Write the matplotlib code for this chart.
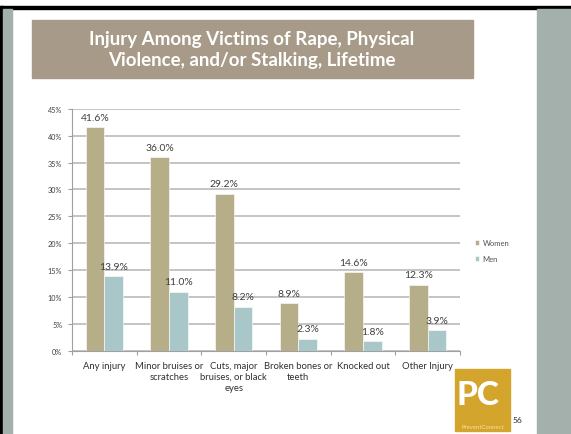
import matplotlib.pyplot as plt
from matplotlib.patches import Rectangle
import numpy as np

plt.rcParams['font.family'] = ['Lato', 'DejaVu Sans']

categories = ["Any injury", "Minor bruises or\nscratches", "Cuts, major\nbruises, or black\neyes",
              "Broken bones or\nteeth", "Knocked out", "Other Injury"]
women = [41.6, 36.0, 29.2, 8.9, 14.6, 12.3]
men = [13.9, 11.0, 8.2, 2.3, 1.8, 3.9]
yticks = [0, 5, 10, 15, 20, 25, 30, 35, 40, 45]

W, H = 571, 435
fig = plt.figure(figsize=(W / 100, H / 100), dpi=100)

def box(x0, y0, x1, y1, color, z=0):
    # rectangle in pixel coords (top-left origin)
    fig.patches.append(Rectangle((x0 / W, 1 - y1 / H), (x1 - x0) / W, (y1 - y0) / H,
                                 transform=fig.transFigure, color=color, zorder=z))

# slide frame
box(0, 7, W, 9.5, "black")
box(0, 7, 3, H, "black")
box(3, 9.5, 12, H, "#A3B0AC")
box(537, 9.5, W, H, "#A3B0AC")

# title banner
box(32, 21, 473, 79, "#A89A88")
fig.text(252 / W, 1 - 50 / H, "Injury Among Victims of Rape, Physical\nViolence, and/or Stalking, Lifetime",
         ha="center", va="center", color="white", fontsize=13.5, fontweight="bold", linespacing=1.35)

# chart
ax = fig.add_axes([72 / W, 1 - 352 / H, (460 - 72) / W, (352 - 109.7) / H])
x = np.arange(len(categories)) + 0.5
bw = 0.29
wc, mc = "#B5AE89", "#A9C7C8"
ax.bar(x - bw / 2, women, bw, color=wc, edgecolor="white", linewidth=0.4, zorder=3, label="Women")
ax.bar(x + bw / 2, men, bw, color=mc, edgecolor="white", linewidth=0.4, zorder=3, label="Men")
for xi, w, m in zip(x, women, men):
    ax.text(xi - bw / 2, w + 1.0, f"{w:.1f}%", ha="center", va="bottom", fontsize=7.5, color="#404040")
    ax.text(xi + bw / 2, m + 1.0, f"{m:.1f}%", ha="center", va="bottom", fontsize=7.5, color="#404040")

ax.set_xlim(0, 6)
ax.set_ylim(0, 45)
ax.set_yticks(yticks)
ax.set_yticklabels([f"{t}%" for t in yticks], fontsize=5.2, color="#404040")
ax.yaxis.grid(True, color="#C4C4C4", linewidth=1.4, zorder=0)
ax.set_axisbelow(True)
ax.set_xticks(range(7))
ax.set_xticklabels([])
ax.set_xticks(x, minor=True)
ax.set_xticklabels(categories, minor=True, fontsize=6.8, color="#303030", linespacing=1.3)
ax.tick_params(axis="x", which="minor", length=0, pad=7)
ax.tick_params(axis="x", which="major", length=3, color="#A0A0A0", direction="out")
ax.tick_params(axis="y", length=3, color="#A0A0A0", pad=4)
for s in ["top", "right"]:
    ax.spines[s].set_visible(False)
for s in ["left", "bottom"]:
    ax.spines[s].set_color("#A0A0A0")
    ax.spines[s].set_linewidth(0.8)

fig.legend(loc="upper left", bbox_to_anchor=(468 / W, 1 - 233 / H), frameon=False, fontsize=5.5,
           handlelength=0.6, handleheight=0.6, handletextpad=0.4, labelspacing=1.2, labelcolor="#505050")

# logo + page number
box(455, 370, 510, 432, "#D4A52C")
fig.text(478 / W, 1 - 396 / H, "PC", ha="center", va="center", fontsize=24, fontweight="black",
         color="white")
fig.text(482.5 / W, 1 - 428 / H, "PreventConnect", ha="center", va="center", fontsize=4.3, color="#F6E39A")
fig.text(513 / W, 1 - 421 / H, "56", ha="left", va="center", fontsize=6, color="#303030")

fig.savefig("out.png", dpi=100)
